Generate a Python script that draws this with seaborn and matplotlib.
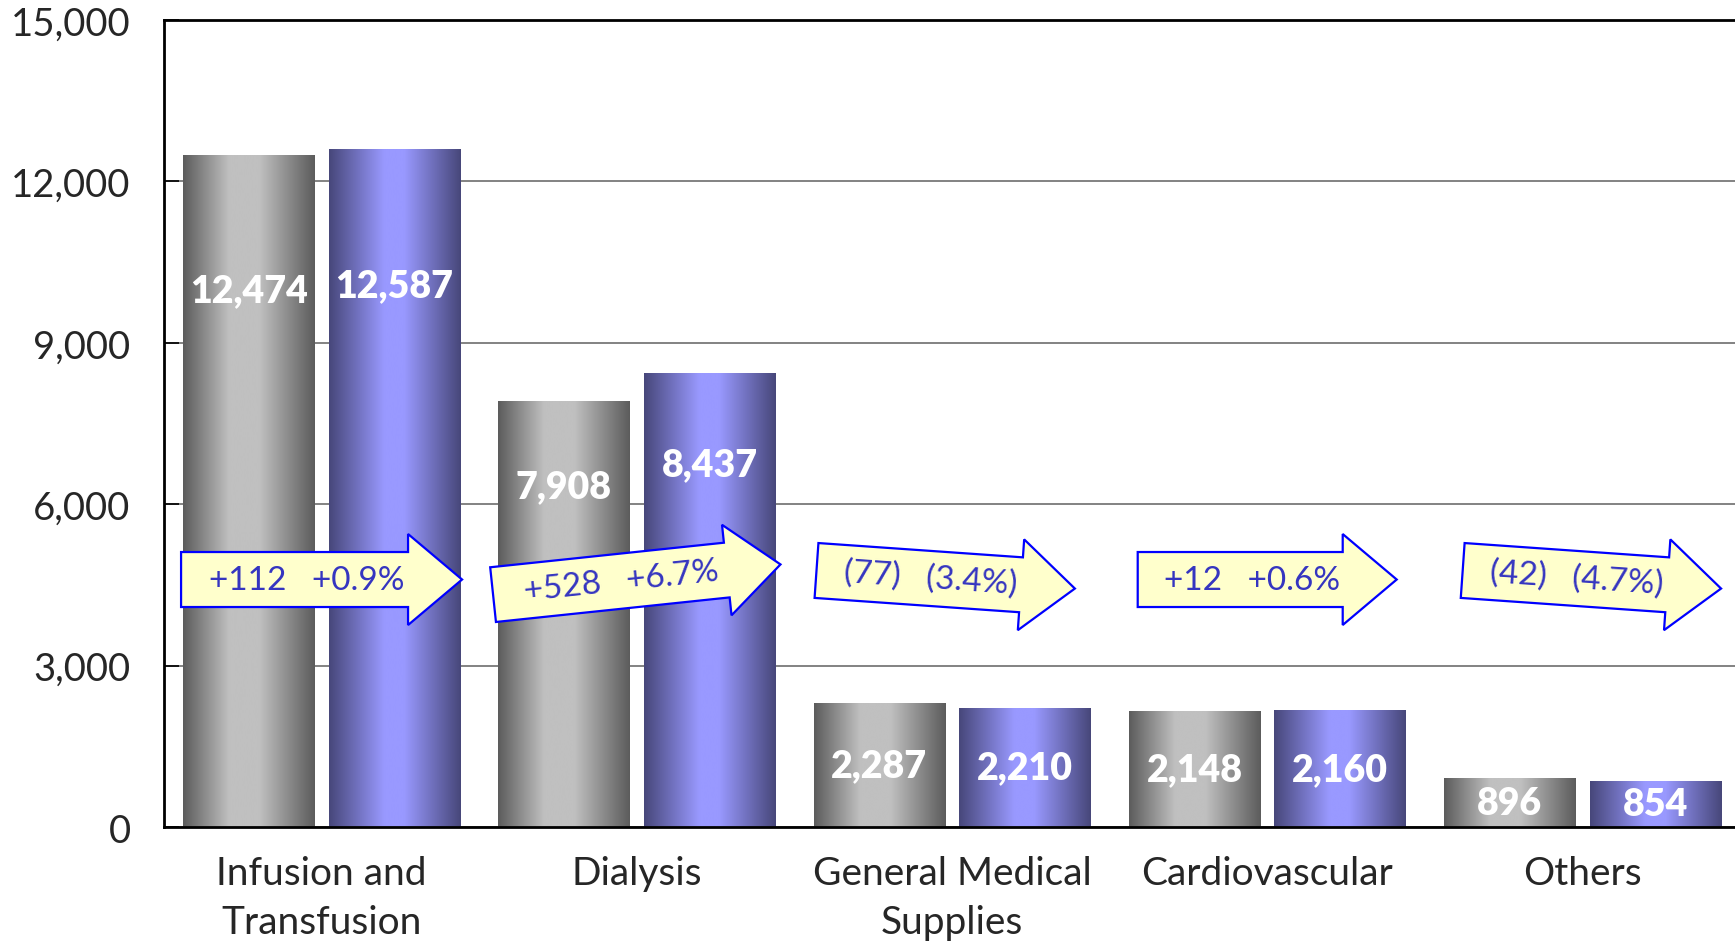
import numpy as np
import pandas as pd
import matplotlib
matplotlib.use("Agg")
import matplotlib.pyplot as plt
import matplotlib.transforms as mtransforms
from matplotlib.patches import Polygon
from matplotlib.colors import LinearSegmentedColormap
import seaborn as sns

# Data
categories = ["Infusion and\nTransfusion", "Dialysis", "General Medical\nSupplies",
              "Cardiovascular", "Others"]
sales_prev = [12474, 7908, 2287, 2148, 896]
sales_curr = [12587, 8437, 2210, 2160, 854]
change_text = ["+112   +0.9%", "+528   +6.7%", "(77)   (3.4%)", "+12   +0.6%", "(42)   (4.7%)"]
y_ticks = [0, 3000, 6000, 9000, 12000, 15000]

# Look
GRAY_DARK, GRAY_LIGHT = "#5c5c5c", "#c0c0c0"
BLUE_DARK, BLUE_LIGHT = "#47477a", "#9999ff"
ARROW_FILL, ARROW_EDGE, ARROW_TEXT = "#ffffcc", "#0000ff", "#3535c0"
arrow_tilt = [0, 6, -4, 0, -4]          # degrees
arrow_len = [281, 289, 259, 259, 259]   # pixels
arrow_shift = [0, 0, -0.02, 0, 0.03]    # nudge along x (category units)
ARROW_Y = 4600

sns.set_style("white")
plt.rcParams["font.family"] = ["Lato", "DejaVu Sans"]

df = pd.DataFrame({
    "category": categories * 2,
    "sales": sales_prev + sales_curr,
    "period": ["prev"] * len(categories) + ["curr"] * len(categories),
})

fig = plt.figure(figsize=(17.35, 9.45), dpi=100)
ax = fig.add_axes([0.0945, 0.1238, 0.9084, 0.854])

sns.barplot(data=df, x="category", y="sales", hue="period",
            palette=[GRAY_LIGHT, BLUE_LIGHT], width=0.924, gap=0.1,
            errorbar=None, legend=False, ax=ax)


def shade(dark, light, a, b):
    return LinearSegmentedColormap.from_list(
        "", [(0, dark), (a, light), (b, light), (1, dark)])


gray_cmap = shade(GRAY_DARK, GRAY_LIGHT, 0.35, 0.58)
blue_cmap = shade(BLUE_DARK, BLUE_LIGHT, 0.42, 0.57)
ramp = np.linspace(0, 1, 256).reshape(1, -1)

# gradient fill + value labels
for bar in list(ax.patches):
    x0, w, h = bar.get_x(), bar.get_width(), bar.get_height()
    xc = x0 + w / 2
    cmap = gray_cmap if xc < round(xc) else blue_cmap
    ax.imshow(ramp, cmap=cmap, extent=[x0, x0 + w, 0, h], aspect="auto",
              interpolation="bicubic", zorder=2)
    bar.set_facecolor("none")
    bar.set_edgecolor("none")
    ly = h * 0.8 if h > 5000 else h / 2
    ax.text(xc, ly, f"{h:,.0f}", ha="center", va="center", color="white",
            fontsize=27, fontweight="heavy", zorder=3)

ax.set_xlim(-0.5, 4.5)
ax.set_ylim(0, 15000)

# change arrows
for i, (txt, tilt, L, dx) in enumerate(zip(change_text, arrow_tilt, arrow_len, arrow_shift)):
    bh, hh, hl = 27.5, 45.5, 54
    verts = np.array([(-L / 2, -bh), (L / 2 - hl, -bh), (L / 2 - hl, -hh), (L / 2, 0),
                      (L / 2 - hl, hh), (L / 2 - hl, bh), (-L / 2, bh)]) / 100.0
    tr = (mtransforms.Affine2D().rotate_deg(tilt) + fig.dpi_scale_trans
          + mtransforms.ScaledTranslation(i + dx, ARROW_Y, ax.transData))
    ax.add_patch(Polygon(verts, closed=True, facecolor=ARROW_FILL,
                         edgecolor=ARROW_EDGE, lw=1.6, transform=tr, zorder=5))
    off = 11
    ax.annotate(txt, xy=(i + dx, ARROW_Y),
                xytext=(-off * np.cos(np.radians(tilt)), -off * np.sin(np.radians(tilt))),
                textcoords="offset points", rotation=tilt, rotation_mode="anchor",
                ha="center", va="center", color=ARROW_TEXT, fontsize=24, zorder=6)

ax.set_xlim(-0.5, 4.5)
ax.set_ylim(0, 15000)
ax.set_yticks(y_ticks)
ax.set_yticklabels([f"{t:,}" for t in y_ticks])
ax.set_xlabel("")
ax.set_ylabel("")
ax.yaxis.grid(True, color="#606060", lw=1.1)
ax.set_axisbelow(True)
ax.tick_params(axis="y", direction="in", length=11, width=1.2, color="black",
               pad=24, labelsize=27.5, left=True)
ax.tick_params(axis="x", length=0, pad=20, labelsize=28)
for lab in ax.get_xticklabels():
    lab.set_linespacing(1.45)
for s in ax.spines.values():
    s.set_visible(True)
    s.set_color("black")
    s.set_linewidth(2)

fig.savefig("out.png", dpi=100)
